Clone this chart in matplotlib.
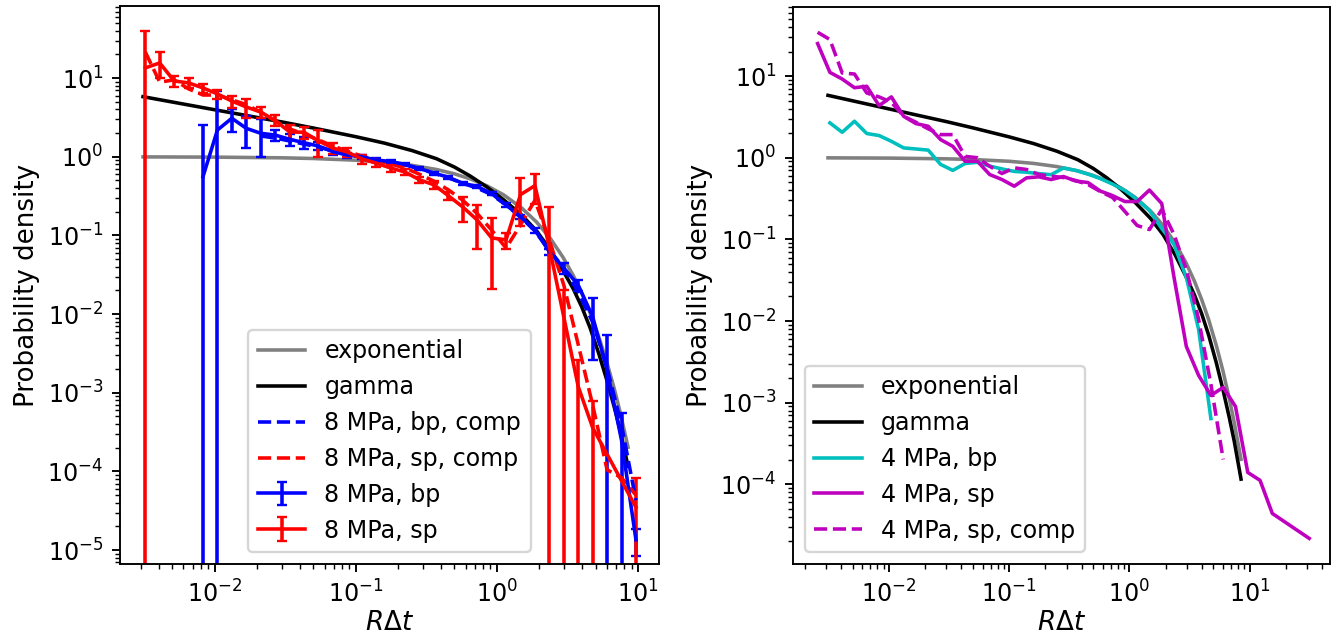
import matplotlib
matplotlib.use("Agg")
import matplotlib.pyplot as plt

# ---------------- data ----------------
# logarithmic bin centres shared by all measured series
bin_x = [0.002541, 0.003216, 0.004070, 0.005150, 0.006518, 0.008249, 0.01044,
         0.01321, 0.01672, 0.02116, 0.02679, 0.03390, 0.04290, 0.05430, 0.06872,
         0.08697, 0.1101, 0.1393, 0.1763, 0.2232, 0.2825, 0.3575, 0.4525, 0.5727,
         0.7248, 0.9173, 1.161, 1.469, 1.860, 2.354, 2.979, 3.770, 4.771, 6.039,
         7.642, 9.672, 12.24, 15.49, 19.61, 24.82, 31.41]

# model curves
model_x = [0.0031, 0.01, 0.03, 0.05, 0.1, 0.16, 0.25, 0.373, 0.5, 0.645, 0.85,
           1.11, 1.5, 1.91, 2.4, 2.95, 3.48, 4.0, 4.57, 5.3, 6.0, 6.8, 7.45, 8.5]
exp_y = [0.9969, 0.990, 0.970, 0.951, 0.905, 0.852, 0.779, 0.689, 0.607, 0.525,
         0.427, 0.330, 0.223, 0.148, 0.0907, 0.0523, 0.0308, 0.0183, 0.0104,
         0.00499, 0.00248, 0.00111, 5.8e-4, 2.03e-4]
gamma_y = [5.81, 3.96, 2.77, 2.32, 1.80, 1.49, 1.20, 0.945, 0.740, 0.571, 0.412,
           0.286, 0.181, 0.1143, 0.0649, 0.0354, 0.0209, 0.01227, 0.00673,
           0.00306, 0.001466, 6.5e-4, 3.42e-4, 1.16e-4]

# left panel: 8 MPa
sp8_idx = list(range(1, 33)) + [35]
sp8_y = [13.5, 15.6, 9.2, 8.7, 7.5, 6.3, 5.1, 4.3, 3.7, 2.9, 2.07, 2.05, 1.59,
         1.29, 1.15, 0.94, 0.83, 0.72, 0.64, 0.51, 0.44, 0.32, 0.23, 0.157,
         0.093, 0.088, 0.33, 0.43, 0.071, 0.0092, 0.0012, 3.6e-4, 3.5e-5]
sp8_err = [25.7, 5.7, 1.5, 1.2, 1.0, 0.8, 0.9, 1.2, 0.6, 0.45, 0.45, 0.35, 0.6,
           0.2, 0.15, 0.12, 0.08, 0.07, 0.05, 0.05, 0.05, 0.04, 0.08, 0.09,
           0.072, 0.02, 0.2, 0.18, 0.16, 0.011, 0.0014, 4.2e-4, 4.7e-5]

sp8c_idx = list(range(1, 36))
sp8c_y = [21.5, 8.9, 9.5, 7.3, 6.1, 6.1, 5.3, 4.6, 3.7, 2.85, 2.26, 1.95, 1.64,
          1.37, 1.18, 1.02, 0.91, 0.81, 0.72, 0.60, 0.49, 0.38, 0.28, 0.19,
          0.117, 0.069, 0.136, 0.28, 0.087, 0.0234, 0.0041, 7.0e-4, 1.05e-4,
          8.3e-5, 5.0e-5]

bp8_idx = list(range(5, 36))
bp8_y = [0.56, 2.19, 3.09, 2.30, 1.99, 1.89, 1.67, 1.51, 1.37, 1.16, 1.05, 1.0,
         0.91, 0.87, 0.80, 0.71, 0.62, 0.55, 0.46, 0.42, 0.34, 0.244, 0.173,
         0.117, 0.062, 0.0386, 0.0234, 0.0093, 0.00195, 2.5e-4, 1.35e-5]
bp8_err = [1.98, 4.7, 1.0, 1.0, 1.0, 0.3, 0.3, 0.25, 0.15, 0.1, 0.08, 0.06, 0.05,
           0.04, 0.035, 0.03, 0.03, 0.025, 0.02, 0.02, 0.015, 0.012, 0.01, 0.008,
           0.005, 0.006, 0.004, 0.0067, 0.0035, 3.0e-4, 5e-6]

bp8c_idx = list(range(9, 36))
bp8c_y = [1.84, 1.73, 1.59, 1.45, 1.33, 1.19, 1.09, 0.99, 0.91, 0.86, 0.79, 0.70,
          0.62, 0.54, 0.46, 0.40, 0.33, 0.244, 0.172, 0.114, 0.065, 0.0386,
          0.0191, 0.0079, 0.00207, 3.9e-4, 4.3e-5]

# right panel: 4 MPa
bp4_idx = list(range(1, 33))
bp4_y = [2.67, 2.05, 2.80, 1.98, 1.87, 1.59, 1.32, 1.28, 1.24, 0.83, 0.70, 0.85,
         0.88, 0.79, 0.73, 0.68, 0.665, 0.64, 0.62, 0.75, 0.70, 0.63, 0.556,
         0.476, 0.397, 0.308, 0.226, 0.136, 0.0867, 0.0342, 0.0079, 6.4e-4]

sp4_idx = list(range(0, 38)) + [40]
sp4_y = [25.0, 11.1, 9.2, 7.2, 7.5, 4.35, 5.56, 3.22, 2.62, 2.43, 1.67, 1.38,
         0.906, 0.906, 0.623, 0.541, 0.448, 0.567, 0.584, 0.541, 0.589, 0.519,
         0.497, 0.391, 0.344, 0.291, 0.291, 0.402, 0.275, 0.0342, 0.00489,
         0.00216, 0.00123, 0.00154, 9.0e-4, 1.40e-4, 1.12e-4, 4.4e-5, 2.18e-5]

sp4c_idx = list(range(0, 34))
sp4c_y = [34.4, 28.0, 10.9, 10.6, 6.2, 5.56, 4.78, 3.22, 2.72, 2.26, 1.92, 1.92,
          1.04, 1.0, 0.787, 0.641, 0.752, 0.718, 0.623, 0.594, 0.573, 0.526,
          0.47, 0.386, 0.326, 0.22, 0.148, 0.132, 0.232, 0.115, 0.0428, 0.0105,
          0.00168, 2.02e-4]


def xs(idx):
    return [bin_x[i] for i in idx]


# ---------------- figure ----------------
DPI = 171
fig = plt.figure(figsize=(1335 / DPI, 640 / DPI), dpi=DPI)
W, H = 1335.0, 640.0
ax1 = fig.add_axes([120 / W, 1 - 564 / H, (659 - 120) / W, (564 - 6) / H])
ax2 = fig.add_axes([793 / W, 1 - 564 / H, (1330 - 793) / W, (564 - 7) / H])

for ax in (ax1, ax2):
    ax.set_xscale("log")
    ax.set_yscale("log")
    ax.plot(model_x, exp_y, color="gray", label="exponential")
    ax.plot(model_x, gamma_y, color="k", label="gamma")

# left
ax1.errorbar(xs(bp8_idx), bp8_y, yerr=bp8_err, color="b", capsize=2,
             label="8 MPa, bp")
ax1.errorbar(xs(sp8_idx), sp8_y, yerr=sp8_err, color="r", capsize=2,
             label="8 MPa, sp")
ax1.plot(xs(bp8c_idx), bp8c_y, "b--", label="8 MPa, bp, comp")
ax1.plot(xs(sp8c_idx), sp8c_y, "r--", label="8 MPa, sp, comp")
ax1.set_xlim(10 ** -2.672, 10 ** 1.149)
ax1.set_ylim(10 ** -5.177, 10 ** 1.917)
ax1.set_xlabel(r"$R\Delta t$", fontsize=11, labelpad=1)
ax1.set_ylabel("Probability density", fontsize=11, labelpad=3)
ax1.legend(loc="lower center")

# right
ax2.plot(xs(bp4_idx), bp4_y, color="c", label="4 MPa, bp")
ax2.plot(xs(sp4_idx), sp4_y, color="m", label="4 MPa, sp")
ax2.plot(xs(sp4c_idx), sp4c_y, "m--", label="4 MPa, sp, comp")
ax2.set_xlim(10 ** -2.80, 10 ** 1.67)
ax2.set_ylim(10 ** -4.975, 10 ** 1.846)
ax2.set_xlabel(r"$R\Delta t$", fontsize=11, labelpad=1)
ax2.set_ylabel("Probability density", fontsize=11, labelpad=3)
ax2.legend(loc="lower left")

fig.savefig("out.png", dpi=DPI)
